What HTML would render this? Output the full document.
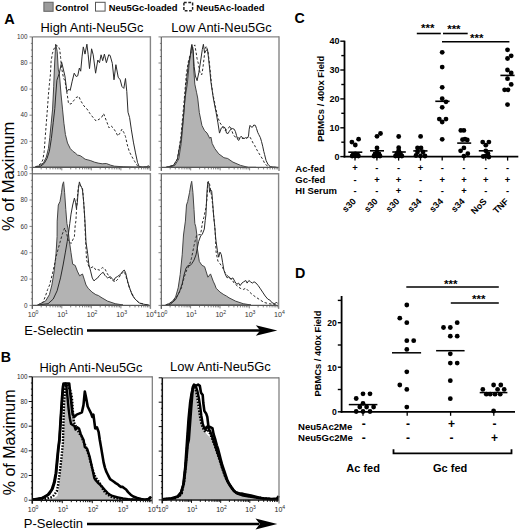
<!DOCTYPE html>
<html><head><meta charset="utf-8"><style>
html,body{margin:0;padding:0;background:#fff;}
body{width:520px;height:531px;overflow:hidden;}
svg{display:block;font-family:"Liberation Sans", sans-serif;}
</style></head><body>
<svg width="520" height="531" viewBox="0 0 520 531">
<polygon points="35.2,167.2 39.2,165.8 43.5,162.8 46.3,157.1 48.4,148.6 49.8,137.4 51.2,123.2 52.6,109.1 53.7,86.7 54.5,66.0 55.7,44.2 57.2,51.4 58.3,70.0 59.3,73.2 61.1,95.0 62.5,109.1 63.9,123.2 65.4,134.5 67.5,143.0 70.3,148.6 73.1,151.5 75.2,152.9 77.4,155.0 80.2,155.7 82.3,157.1 85.1,159.2 87.9,159.9 90.8,160.7 94.3,162.1 98.1,163.1 102.2,163.8 106.3,163.5 110.4,165.1 114.4,166.2 123.9,166.8 137.5,167.2 150.4,167.2" fill="#b3b3b3" stroke="#444" stroke-width="1.0" stroke-linejoin="round"/>
<polyline points="35.2,167.2 40.6,163.9 42.8,160.0 44.2,151.5 45.2,137.4 46.3,123.2 47.4,109.1 48.4,95.0 49.4,84.1 50.4,74.6 51.1,61.4 52.4,53.5 53.7,49.5 55.7,45.5 58.3,46.2 59.7,49.5 60.6,57.4 61.6,68.0 63.6,78.5 64.9,80.5 66.3,89.0 67.6,97.0 68.5,103.6 71.0,104.0 73.5,100.9 76.1,97.6 78.8,96.3 80.8,100.9 84.0,106.0 87.0,109.0 90.0,113.6 92.7,117.0 96.1,121.0 99.5,119.0 101.5,117.6 103.6,113.6 104.9,117.0 107.0,122.4 109.0,127.8 111.0,125.8 113.1,127.8 115.8,131.9 117.8,136.0 119.9,133.2 121.9,129.2 123.9,132.6 125.5,136.6 127.3,144.8 129.3,151.6 132.1,157.0 134.8,161.7 137.5,165.8 138.8,167.2 150.4,167.2" fill="none" stroke="#2a2a2a" stroke-width="1.0" stroke-dasharray="2.5,2" stroke-linejoin="round"/>
<polyline points="35.2,167.2 40.3,166.5 44.2,163.4 47.0,158.5 49.4,151.2 51.4,138.3 53.2,122.8 54.8,108.6 55.6,97.0 56.9,80.2 59.3,73.2 61.6,62.0 64.9,75.9 66.9,91.7 68.9,89.1 70.2,90.4 72.2,81.2 74.2,73.2 76.2,76.5 77.7,75.9 79.4,68.0 80.7,71.2 82.1,56.1 83.3,46.9 85.0,54.1 86.9,44.2 88.2,54.8 89.5,68.6 91.6,48.8 93.2,54.8 95.6,73.2 97.8,60.0 99.5,62.7 101.1,54.8 102.7,60.7 104.4,54.1 106.4,62.7 108.7,54.8 110.1,55.4 112.3,63.3 114.0,79.8 115.9,64.7 118.2,77.2 120.2,79.8 121.9,86.4 123.8,88.4 125.5,78.5 126.8,91.7 128.0,112.2 129.6,117.6 131.4,129.9 133.4,142.1 135.5,152.9 137.5,162.4 139.1,166.5 141.6,167.2 146.2,167.0 148.3,165.8 150.4,167.2" fill="none" stroke="#2a2a2a" stroke-width="1.0" stroke-linejoin="round"/>
<polygon points="168.3,167.4 174.8,165.4 178.7,159.0 181.2,143.5 183.3,120.2 185.0,98.0 187.3,84.1 189.0,65.7 190.3,55.7 191.9,44.3 193.1,51.8 193.6,66.8 194.8,84.1 196.5,92.2 197.7,98.0 199.3,112.5 201.9,125.4 204.5,130.6 207.1,133.1 209.7,138.3 210.9,137.0 212.2,143.5 214.8,148.6 218.7,153.8 223.9,157.7 227.7,158.5 232.9,162.1 240.6,165.4 248.4,167.4 256.1,167.4" fill="#b3b3b3" stroke="#444" stroke-width="1.0" stroke-linejoin="round"/>
<polyline points="165.7,167.4 173.5,165.4 177.4,159.0 180.7,138.3 183.8,104.7 186.4,73.7 188.5,60.8 190.3,54.4 192.9,47.9 194.8,44.9 196.0,51.8 197.1,58.8 198.3,63.4 200.0,72.6 201.7,74.9 202.9,68.0 204.0,58.8 205.2,48.4 206.3,46.1 208.0,51.8 209.2,61.1 210.4,72.6 211.5,84.1 212.7,93.4 214.3,100.9 216.1,109.9 217.9,117.6 220.0,122.8 222.6,126.7 225.1,130.6 227.7,129.3 230.0,125.8 233.1,134.2 235.0,136.9 238.1,137.8 240.6,138.6 243.2,138.3 245.8,138.6 249.6,136.5 251.2,139.2 253.1,143.1 254.6,145.4 256.5,149.2 258.8,153.1 261.2,156.9 262.7,159.2 264.4,162.8 266.5,165.4 270.3,167.2 276.8,167.4" fill="none" stroke="#2a2a2a" stroke-width="1.0" stroke-dasharray="2.5,2" stroke-linejoin="round"/>
<polyline points="165.7,167.4 173.5,165.4 177.4,159.0 181.2,138.3 183.8,112.5 186.4,81.5 188.5,63.4 190.3,55.7 191.6,45.3 193.1,49.5 194.2,66.8 195.4,76.0 197.1,80.7 198.8,72.6 200.6,61.1 202.3,49.5 203.4,44.3 204.6,53.0 205.8,50.7 207.5,49.5 208.6,58.8 209.8,70.3 210.9,81.8 212.1,89.9 213.3,98.0 214.8,106.0 216.1,112.5 217.9,122.8 219.5,133.1 221.3,128.0 223.1,126.7 225.0,127.7 226.5,133.1 228.1,133.5 229.2,131.5 230.8,129.2 232.3,128.5 234.2,129.2 235.4,131.5 236.5,135.4 237.7,139.6 238.8,140.4 240.0,137.7 241.2,136.2 242.7,138.1 244.2,138.5 245.4,137.7 246.9,138.1 248.5,136.2 249.2,129.2 250.0,125.4 251.2,126.9 252.3,127.3 253.8,125.0 255.4,125.4 256.5,128.5 257.7,132.3 258.8,134.6 260.4,137.7 261.5,141.5 262.7,146.2 263.8,151.5 264.6,154.6 266.0,160.3 267.8,164.1 270.3,166.7 276.8,167.4" fill="none" stroke="#2a2a2a" stroke-width="1.0" stroke-linejoin="round"/>
<polygon points="37.7,305.0 45.5,301.1 49.4,294.7 51.9,285.0 54.2,271.1 56.0,253.8 57.1,236.5 57.2,221.1 58.3,205.0 60.0,201.5 61.5,192.7 62.5,184.9 63.6,181.8 64.6,192.3 65.8,209.6 66.9,223.4 68.1,229.2 69.2,240.0 71.0,252.7 72.7,264.2 75.2,265.4 77.3,271.1 79.6,275.8 82.5,274.0 84.2,279.2 86.0,285.0 88.1,288.2 92.0,292.1 95.9,294.7 98.4,295.5 101.0,297.3 107.5,301.1 115.2,303.7 123.0,305.0" fill="#b3b3b3" stroke="#444" stroke-width="1.0" stroke-linejoin="round"/>
<polyline points="37.7,305.0 42.9,302.4 45.5,296.0 47.6,289.5 49.6,285.0 53.1,271.1 56.5,255.0 60.0,242.3 62.3,234.2 64.6,228.0 66.5,233.0 68.1,240.0 71.0,243.5 74.4,236.5 75.2,225.0 75.9,221.1 76.4,211.9 77.3,198.1 78.4,186.5 79.5,184.0 81.3,186.5 82.5,188.3 83.4,198.1 84.2,209.6 84.8,221.1 85.4,236.5 86.0,248.0 86.5,259.6 88.8,266.5 91.1,267.7 93.4,266.5 95.8,270.0 97.7,269.6 99.7,270.1 102.3,267.6 104.9,268.8 107.5,274.0 110.1,277.9 112.6,280.5 115.2,281.8 117.8,279.2 120.4,275.3 122.5,272.7 124.3,271.4 125.6,275.3 127.6,281.8 129.4,288.2 132.0,293.4 134.6,298.5 138.5,302.4 143.6,304.2 148.8,305.0" fill="none" stroke="#2a2a2a" stroke-width="1.0" stroke-dasharray="2.5,2" stroke-linejoin="round"/>
<polyline points="37.7,305.0 48.1,303.7 53.2,299.1 57.1,290.8 60.5,277.9 63.1,265.0 65.4,252.1 67.2,241.7 68.6,232.7 69.8,223.4 71.0,214.2 72.7,205.0 74.4,198.1 75.6,202.7 76.4,208.4 77.3,202.7 78.4,188.8 79.4,181.9 80.5,185.4 81.7,187.7 82.5,190.0 83.6,201.5 84.6,215.4 85.4,229.2 86.0,242.3 87.7,253.8 88.8,264.2 90.6,271.1 92.3,278.1 94.0,280.9 95.8,279.2 97.5,278.1 99.2,275.8 101.5,273.4 103.2,272.3 104.9,275.3 106.2,276.6 107.5,277.9 108.8,277.4 110.1,276.6 112.1,278.4 113.9,280.5 115.2,277.9 117.3,276.6 119.1,275.3 120.9,274.0 122.5,271.4 124.3,270.1 125.6,272.7 126.8,277.9 128.1,283.1 130.2,289.5 132.0,294.7 134.6,298.5 137.2,301.1 139.8,303.2 143.6,304.2 148.8,305.0" fill="none" stroke="#2a2a2a" stroke-width="1.0" stroke-linejoin="round"/>
<polygon points="165.7,305.0 167.6,304.3 171.6,302.3 175.6,297.0 178.2,287.8 180.2,274.6 182.2,254.8 183.5,235.0 185.4,221.1 186.5,205.0 187.7,201.5 189.5,192.7 190.8,184.9 191.7,181.3 192.9,192.3 194.0,209.6 194.8,223.4 195.8,226.9 196.9,235.0 197.3,248.2 199.3,261.4 201.9,265.3 204.6,266.7 207.9,277.2 210.5,273.9 213.2,281.2 215.0,285.1 216.1,288.2 220.0,292.1 223.9,294.7 226.4,296.0 229.0,297.8 235.5,301.1 243.2,303.7 251.0,305.0" fill="#b3b3b3" stroke="#444" stroke-width="1.0" stroke-linejoin="round"/>
<polyline points="165.7,305.0 169.0,303.6 174.2,300.3 178.2,294.4 181.5,287.8 183.5,279.9 185.4,273.3 187.4,268.6 189.4,265.3 191.4,258.7 192.7,252.2 194.0,245.6 195.3,240.3 196.7,235.0 198.8,234.8 200.5,234.5 201.4,229.8 202.3,223.2 203.8,217.6 205.0,212.0 206.1,207.2 206.9,199.7 207.5,190.1 207.8,184.1 208.4,181.3 209.6,184.2 210.8,191.1 211.9,198.1 213.1,209.6 214.2,221.1 215.1,230.4 216.1,252.1 217.9,261.1 220.0,263.7 222.6,267.6 225.1,272.7 227.2,275.3 229.0,277.9 231.6,279.2 234.2,283.1 236.8,285.6 240.1,288.2 243.2,289.5 245.8,288.2 248.4,290.8 251.0,293.4 253.6,295.5 256.1,297.3 260.0,299.8 263.9,302.4 269.1,303.7 276.8,305.0" fill="none" stroke="#2a2a2a" stroke-width="1.0" stroke-dasharray="2.5,2" stroke-linejoin="round"/>
<polyline points="168.3,305.0 170.3,304.3 175.6,299.6 179.5,291.7 182.2,283.8 184.1,274.6 186.1,268.0 188.1,265.3 190.1,265.6 192.0,263.4 194.0,260.1 196.0,254.8 197.3,248.2 198.6,241.6 200.6,236.0 202.4,234.0 204.3,229.1 205.2,220.6 205.9,215.0 206.4,203.8 207.1,190.0 207.9,181.9 209.0,184.2 209.6,192.3 210.8,190.0 211.7,191.1 212.5,200.4 213.6,215.4 214.8,226.9 215.4,235.0 216.1,241.7 217.4,250.8 218.7,257.2 220.0,252.1 221.3,254.6 222.6,262.4 223.9,270.1 225.7,275.3 227.2,277.9 229.0,276.6 230.8,279.2 232.9,277.9 235.0,281.8 236.8,284.3 238.6,283.1 240.1,285.6 241.9,283.1 243.7,281.8 245.8,280.5 247.1,283.1 248.9,280.5 250.5,281.8 252.3,283.1 254.1,281.8 256.1,283.1 258.2,285.6 260.0,288.2 262.6,292.1 265.2,296.0 267.8,299.1 270.3,300.4 271.6,302.4 274.2,303.7 276.8,302.4 278.1,303.7" fill="none" stroke="#2a2a2a" stroke-width="1.0" stroke-linejoin="round"/>
<line x1="29.5" y1="167.4" x2="32.3" y2="167.4" stroke="#666" stroke-width="0.8" />
<text x="27.5" y="169.6" font-size="6.3" font-weight="normal" text-anchor="end" fill="#333" >0</text>
<line x1="30.9" y1="160.9" x2="32.3" y2="160.9" stroke="#666" stroke-width="0.8" />
<line x1="30.9" y1="154.3" x2="32.3" y2="154.3" stroke="#666" stroke-width="0.8" />
<line x1="30.9" y1="147.8" x2="32.3" y2="147.8" stroke="#666" stroke-width="0.8" />
<line x1="29.5" y1="141.3" x2="32.3" y2="141.3" stroke="#666" stroke-width="0.8" />
<text x="27.5" y="143.5" font-size="6.3" font-weight="normal" text-anchor="end" fill="#333" >20</text>
<line x1="30.9" y1="134.8" x2="32.3" y2="134.8" stroke="#666" stroke-width="0.8" />
<line x1="30.9" y1="128.2" x2="32.3" y2="128.2" stroke="#666" stroke-width="0.8" />
<line x1="30.9" y1="121.7" x2="32.3" y2="121.7" stroke="#666" stroke-width="0.8" />
<line x1="29.5" y1="115.2" x2="32.3" y2="115.2" stroke="#666" stroke-width="0.8" />
<text x="27.5" y="117.4" font-size="6.3" font-weight="normal" text-anchor="end" fill="#333" >40</text>
<line x1="30.9" y1="108.7" x2="32.3" y2="108.7" stroke="#666" stroke-width="0.8" />
<line x1="30.9" y1="102.2" x2="32.3" y2="102.2" stroke="#666" stroke-width="0.8" />
<line x1="30.9" y1="95.6" x2="32.3" y2="95.6" stroke="#666" stroke-width="0.8" />
<line x1="29.5" y1="89.1" x2="32.3" y2="89.1" stroke="#666" stroke-width="0.8" />
<text x="27.5" y="91.3" font-size="6.3" font-weight="normal" text-anchor="end" fill="#333" >60</text>
<line x1="30.9" y1="82.6" x2="32.3" y2="82.6" stroke="#666" stroke-width="0.8" />
<line x1="30.9" y1="76.1" x2="32.3" y2="76.1" stroke="#666" stroke-width="0.8" />
<line x1="30.9" y1="69.5" x2="32.3" y2="69.5" stroke="#666" stroke-width="0.8" />
<line x1="29.5" y1="63.0" x2="32.3" y2="63.0" stroke="#666" stroke-width="0.8" />
<text x="27.5" y="65.2" font-size="6.3" font-weight="normal" text-anchor="end" fill="#333" >80</text>
<line x1="30.9" y1="56.5" x2="32.3" y2="56.5" stroke="#666" stroke-width="0.8" />
<line x1="30.9" y1="50.0" x2="32.3" y2="50.0" stroke="#666" stroke-width="0.8" />
<line x1="30.9" y1="43.4" x2="32.3" y2="43.4" stroke="#666" stroke-width="0.8" />
<line x1="29.5" y1="36.9" x2="32.3" y2="36.9" stroke="#666" stroke-width="0.8" />
<text x="27.5" y="39.1" font-size="6.3" font-weight="normal" text-anchor="end" fill="#333" >100</text>
<line x1="32.3" y1="167.4" x2="32.3" y2="170.4" stroke="#666" stroke-width="0.8" />
<line x1="41.2" y1="167.4" x2="41.2" y2="169.4" stroke="#666" stroke-width="0.8" />
<line x1="46.4" y1="167.4" x2="46.4" y2="169.4" stroke="#666" stroke-width="0.8" />
<line x1="50.1" y1="167.4" x2="50.1" y2="169.4" stroke="#666" stroke-width="0.8" />
<line x1="52.9" y1="167.4" x2="52.9" y2="169.4" stroke="#666" stroke-width="0.8" />
<line x1="55.3" y1="167.4" x2="55.3" y2="169.4" stroke="#666" stroke-width="0.8" />
<line x1="57.3" y1="167.4" x2="57.3" y2="169.4" stroke="#666" stroke-width="0.8" />
<line x1="59.0" y1="167.4" x2="59.0" y2="169.4" stroke="#666" stroke-width="0.8" />
<line x1="60.5" y1="167.4" x2="60.5" y2="169.4" stroke="#666" stroke-width="0.8" />
<line x1="61.8" y1="167.4" x2="61.8" y2="170.4" stroke="#666" stroke-width="0.8" />
<line x1="70.7" y1="167.4" x2="70.7" y2="169.4" stroke="#666" stroke-width="0.8" />
<line x1="75.9" y1="167.4" x2="75.9" y2="169.4" stroke="#666" stroke-width="0.8" />
<line x1="79.6" y1="167.4" x2="79.6" y2="169.4" stroke="#666" stroke-width="0.8" />
<line x1="82.5" y1="167.4" x2="82.5" y2="169.4" stroke="#666" stroke-width="0.8" />
<line x1="84.8" y1="167.4" x2="84.8" y2="169.4" stroke="#666" stroke-width="0.8" />
<line x1="86.8" y1="167.4" x2="86.8" y2="169.4" stroke="#666" stroke-width="0.8" />
<line x1="88.5" y1="167.4" x2="88.5" y2="169.4" stroke="#666" stroke-width="0.8" />
<line x1="90.0" y1="167.4" x2="90.0" y2="169.4" stroke="#666" stroke-width="0.8" />
<line x1="91.3" y1="167.4" x2="91.3" y2="170.4" stroke="#666" stroke-width="0.8" />
<line x1="100.2" y1="167.4" x2="100.2" y2="169.4" stroke="#666" stroke-width="0.8" />
<line x1="105.4" y1="167.4" x2="105.4" y2="169.4" stroke="#666" stroke-width="0.8" />
<line x1="109.1" y1="167.4" x2="109.1" y2="169.4" stroke="#666" stroke-width="0.8" />
<line x1="112.0" y1="167.4" x2="112.0" y2="169.4" stroke="#666" stroke-width="0.8" />
<line x1="114.3" y1="167.4" x2="114.3" y2="169.4" stroke="#666" stroke-width="0.8" />
<line x1="116.3" y1="167.4" x2="116.3" y2="169.4" stroke="#666" stroke-width="0.8" />
<line x1="118.0" y1="167.4" x2="118.0" y2="169.4" stroke="#666" stroke-width="0.8" />
<line x1="119.5" y1="167.4" x2="119.5" y2="169.4" stroke="#666" stroke-width="0.8" />
<line x1="120.9" y1="167.4" x2="120.9" y2="170.4" stroke="#666" stroke-width="0.8" />
<line x1="129.8" y1="167.4" x2="129.8" y2="169.4" stroke="#666" stroke-width="0.8" />
<line x1="135.0" y1="167.4" x2="135.0" y2="169.4" stroke="#666" stroke-width="0.8" />
<line x1="138.7" y1="167.4" x2="138.7" y2="169.4" stroke="#666" stroke-width="0.8" />
<line x1="141.5" y1="167.4" x2="141.5" y2="169.4" stroke="#666" stroke-width="0.8" />
<line x1="143.8" y1="167.4" x2="143.8" y2="169.4" stroke="#666" stroke-width="0.8" />
<line x1="145.8" y1="167.4" x2="145.8" y2="169.4" stroke="#666" stroke-width="0.8" />
<line x1="147.5" y1="167.4" x2="147.5" y2="169.4" stroke="#666" stroke-width="0.8" />
<line x1="149.0" y1="167.4" x2="149.0" y2="169.4" stroke="#666" stroke-width="0.8" />
<line x1="32.3" y1="36.9" x2="150.4" y2="36.9" stroke="#858585" stroke-width="1.4" />
<line x1="32.3" y1="167.4" x2="150.4" y2="167.4" stroke="#555" stroke-width="1.1" />
<line x1="150.4" y1="36.2" x2="150.4" y2="170.9" stroke="#858585" stroke-width="1.4" />
<line x1="32.3" y1="36.9" x2="32.3" y2="170.9" stroke="#555" stroke-width="1.1" />
<line x1="158.5" y1="167.4" x2="161.3" y2="167.4" stroke="#666" stroke-width="0.8" />
<line x1="159.9" y1="160.9" x2="161.3" y2="160.9" stroke="#666" stroke-width="0.8" />
<line x1="159.9" y1="154.3" x2="161.3" y2="154.3" stroke="#666" stroke-width="0.8" />
<line x1="159.9" y1="147.8" x2="161.3" y2="147.8" stroke="#666" stroke-width="0.8" />
<line x1="158.5" y1="141.3" x2="161.3" y2="141.3" stroke="#666" stroke-width="0.8" />
<line x1="159.9" y1="134.8" x2="161.3" y2="134.8" stroke="#666" stroke-width="0.8" />
<line x1="159.9" y1="128.2" x2="161.3" y2="128.2" stroke="#666" stroke-width="0.8" />
<line x1="159.9" y1="121.7" x2="161.3" y2="121.7" stroke="#666" stroke-width="0.8" />
<line x1="158.5" y1="115.2" x2="161.3" y2="115.2" stroke="#666" stroke-width="0.8" />
<line x1="159.9" y1="108.7" x2="161.3" y2="108.7" stroke="#666" stroke-width="0.8" />
<line x1="159.9" y1="102.2" x2="161.3" y2="102.2" stroke="#666" stroke-width="0.8" />
<line x1="159.9" y1="95.6" x2="161.3" y2="95.6" stroke="#666" stroke-width="0.8" />
<line x1="158.5" y1="89.1" x2="161.3" y2="89.1" stroke="#666" stroke-width="0.8" />
<line x1="159.9" y1="82.6" x2="161.3" y2="82.6" stroke="#666" stroke-width="0.8" />
<line x1="159.9" y1="76.1" x2="161.3" y2="76.1" stroke="#666" stroke-width="0.8" />
<line x1="159.9" y1="69.5" x2="161.3" y2="69.5" stroke="#666" stroke-width="0.8" />
<line x1="158.5" y1="63.0" x2="161.3" y2="63.0" stroke="#666" stroke-width="0.8" />
<line x1="159.9" y1="56.5" x2="161.3" y2="56.5" stroke="#666" stroke-width="0.8" />
<line x1="159.9" y1="50.0" x2="161.3" y2="50.0" stroke="#666" stroke-width="0.8" />
<line x1="159.9" y1="43.4" x2="161.3" y2="43.4" stroke="#666" stroke-width="0.8" />
<line x1="158.5" y1="36.9" x2="161.3" y2="36.9" stroke="#666" stroke-width="0.8" />
<line x1="161.3" y1="167.4" x2="161.3" y2="170.4" stroke="#666" stroke-width="0.8" />
<line x1="170.2" y1="167.4" x2="170.2" y2="169.4" stroke="#666" stroke-width="0.8" />
<line x1="175.3" y1="167.4" x2="175.3" y2="169.4" stroke="#666" stroke-width="0.8" />
<line x1="179.0" y1="167.4" x2="179.0" y2="169.4" stroke="#666" stroke-width="0.8" />
<line x1="181.9" y1="167.4" x2="181.9" y2="169.4" stroke="#666" stroke-width="0.8" />
<line x1="184.2" y1="167.4" x2="184.2" y2="169.4" stroke="#666" stroke-width="0.8" />
<line x1="186.2" y1="167.4" x2="186.2" y2="169.4" stroke="#666" stroke-width="0.8" />
<line x1="187.9" y1="167.4" x2="187.9" y2="169.4" stroke="#666" stroke-width="0.8" />
<line x1="189.4" y1="167.4" x2="189.4" y2="169.4" stroke="#666" stroke-width="0.8" />
<line x1="190.7" y1="167.4" x2="190.7" y2="170.4" stroke="#666" stroke-width="0.8" />
<line x1="199.6" y1="167.4" x2="199.6" y2="169.4" stroke="#666" stroke-width="0.8" />
<line x1="204.8" y1="167.4" x2="204.8" y2="169.4" stroke="#666" stroke-width="0.8" />
<line x1="208.4" y1="167.4" x2="208.4" y2="169.4" stroke="#666" stroke-width="0.8" />
<line x1="211.3" y1="167.4" x2="211.3" y2="169.4" stroke="#666" stroke-width="0.8" />
<line x1="213.6" y1="167.4" x2="213.6" y2="169.4" stroke="#666" stroke-width="0.8" />
<line x1="215.6" y1="167.4" x2="215.6" y2="169.4" stroke="#666" stroke-width="0.8" />
<line x1="217.3" y1="167.4" x2="217.3" y2="169.4" stroke="#666" stroke-width="0.8" />
<line x1="218.8" y1="167.4" x2="218.8" y2="169.4" stroke="#666" stroke-width="0.8" />
<line x1="220.2" y1="167.4" x2="220.2" y2="170.4" stroke="#666" stroke-width="0.8" />
<line x1="229.0" y1="167.4" x2="229.0" y2="169.4" stroke="#666" stroke-width="0.8" />
<line x1="234.2" y1="167.4" x2="234.2" y2="169.4" stroke="#666" stroke-width="0.8" />
<line x1="237.9" y1="167.4" x2="237.9" y2="169.4" stroke="#666" stroke-width="0.8" />
<line x1="240.7" y1="167.4" x2="240.7" y2="169.4" stroke="#666" stroke-width="0.8" />
<line x1="243.0" y1="167.4" x2="243.0" y2="169.4" stroke="#666" stroke-width="0.8" />
<line x1="245.0" y1="167.4" x2="245.0" y2="169.4" stroke="#666" stroke-width="0.8" />
<line x1="246.7" y1="167.4" x2="246.7" y2="169.4" stroke="#666" stroke-width="0.8" />
<line x1="248.2" y1="167.4" x2="248.2" y2="169.4" stroke="#666" stroke-width="0.8" />
<line x1="249.6" y1="167.4" x2="249.6" y2="170.4" stroke="#666" stroke-width="0.8" />
<line x1="258.4" y1="167.4" x2="258.4" y2="169.4" stroke="#666" stroke-width="0.8" />
<line x1="263.6" y1="167.4" x2="263.6" y2="169.4" stroke="#666" stroke-width="0.8" />
<line x1="267.3" y1="167.4" x2="267.3" y2="169.4" stroke="#666" stroke-width="0.8" />
<line x1="270.1" y1="167.4" x2="270.1" y2="169.4" stroke="#666" stroke-width="0.8" />
<line x1="272.5" y1="167.4" x2="272.5" y2="169.4" stroke="#666" stroke-width="0.8" />
<line x1="274.4" y1="167.4" x2="274.4" y2="169.4" stroke="#666" stroke-width="0.8" />
<line x1="276.1" y1="167.4" x2="276.1" y2="169.4" stroke="#666" stroke-width="0.8" />
<line x1="277.7" y1="167.4" x2="277.7" y2="169.4" stroke="#666" stroke-width="0.8" />
<line x1="161.3" y1="36.9" x2="279.0" y2="36.9" stroke="#858585" stroke-width="1.4" />
<line x1="161.3" y1="167.4" x2="279.0" y2="167.4" stroke="#555" stroke-width="1.1" />
<line x1="279.0" y1="36.2" x2="279.0" y2="170.9" stroke="#858585" stroke-width="1.4" />
<line x1="161.3" y1="36.9" x2="161.3" y2="170.9" stroke="#555" stroke-width="1.1" />
<line x1="29.5" y1="305.4" x2="32.3" y2="305.4" stroke="#666" stroke-width="0.8" />
<text x="27.5" y="307.6" font-size="6.3" font-weight="normal" text-anchor="end" fill="#333" >0</text>
<line x1="30.9" y1="298.8" x2="32.3" y2="298.8" stroke="#666" stroke-width="0.8" />
<line x1="30.9" y1="292.2" x2="32.3" y2="292.2" stroke="#666" stroke-width="0.8" />
<line x1="30.9" y1="285.6" x2="32.3" y2="285.6" stroke="#666" stroke-width="0.8" />
<line x1="29.5" y1="279.1" x2="32.3" y2="279.1" stroke="#666" stroke-width="0.8" />
<text x="27.5" y="281.3" font-size="6.3" font-weight="normal" text-anchor="end" fill="#333" >20</text>
<line x1="30.9" y1="272.5" x2="32.3" y2="272.5" stroke="#666" stroke-width="0.8" />
<line x1="30.9" y1="265.9" x2="32.3" y2="265.9" stroke="#666" stroke-width="0.8" />
<line x1="30.9" y1="259.3" x2="32.3" y2="259.3" stroke="#666" stroke-width="0.8" />
<line x1="29.5" y1="252.7" x2="32.3" y2="252.7" stroke="#666" stroke-width="0.8" />
<text x="27.5" y="254.9" font-size="6.3" font-weight="normal" text-anchor="end" fill="#333" >40</text>
<line x1="30.9" y1="246.1" x2="32.3" y2="246.1" stroke="#666" stroke-width="0.8" />
<line x1="30.9" y1="239.5" x2="32.3" y2="239.5" stroke="#666" stroke-width="0.8" />
<line x1="30.9" y1="233.0" x2="32.3" y2="233.0" stroke="#666" stroke-width="0.8" />
<line x1="29.5" y1="226.4" x2="32.3" y2="226.4" stroke="#666" stroke-width="0.8" />
<text x="27.5" y="228.6" font-size="6.3" font-weight="normal" text-anchor="end" fill="#333" >60</text>
<line x1="30.9" y1="219.8" x2="32.3" y2="219.8" stroke="#666" stroke-width="0.8" />
<line x1="30.9" y1="213.2" x2="32.3" y2="213.2" stroke="#666" stroke-width="0.8" />
<line x1="30.9" y1="206.6" x2="32.3" y2="206.6" stroke="#666" stroke-width="0.8" />
<line x1="29.5" y1="200.0" x2="32.3" y2="200.0" stroke="#666" stroke-width="0.8" />
<text x="27.5" y="202.2" font-size="6.3" font-weight="normal" text-anchor="end" fill="#333" >80</text>
<line x1="30.9" y1="193.5" x2="32.3" y2="193.5" stroke="#666" stroke-width="0.8" />
<line x1="30.9" y1="186.9" x2="32.3" y2="186.9" stroke="#666" stroke-width="0.8" />
<line x1="30.9" y1="180.3" x2="32.3" y2="180.3" stroke="#666" stroke-width="0.8" />
<line x1="29.5" y1="173.7" x2="32.3" y2="173.7" stroke="#666" stroke-width="0.8" />
<text x="27.5" y="175.9" font-size="6.3" font-weight="normal" text-anchor="end" fill="#333" >100</text>
<line x1="32.3" y1="305.4" x2="32.3" y2="308.4" stroke="#666" stroke-width="0.8" />
<line x1="41.2" y1="305.4" x2="41.2" y2="307.4" stroke="#666" stroke-width="0.8" />
<line x1="46.4" y1="305.4" x2="46.4" y2="307.4" stroke="#666" stroke-width="0.8" />
<line x1="50.1" y1="305.4" x2="50.1" y2="307.4" stroke="#666" stroke-width="0.8" />
<line x1="52.9" y1="305.4" x2="52.9" y2="307.4" stroke="#666" stroke-width="0.8" />
<line x1="55.3" y1="305.4" x2="55.3" y2="307.4" stroke="#666" stroke-width="0.8" />
<line x1="57.3" y1="305.4" x2="57.3" y2="307.4" stroke="#666" stroke-width="0.8" />
<line x1="59.0" y1="305.4" x2="59.0" y2="307.4" stroke="#666" stroke-width="0.8" />
<line x1="60.5" y1="305.4" x2="60.5" y2="307.4" stroke="#666" stroke-width="0.8" />
<line x1="61.8" y1="305.4" x2="61.8" y2="308.4" stroke="#666" stroke-width="0.8" />
<line x1="70.7" y1="305.4" x2="70.7" y2="307.4" stroke="#666" stroke-width="0.8" />
<line x1="75.9" y1="305.4" x2="75.9" y2="307.4" stroke="#666" stroke-width="0.8" />
<line x1="79.6" y1="305.4" x2="79.6" y2="307.4" stroke="#666" stroke-width="0.8" />
<line x1="82.5" y1="305.4" x2="82.5" y2="307.4" stroke="#666" stroke-width="0.8" />
<line x1="84.8" y1="305.4" x2="84.8" y2="307.4" stroke="#666" stroke-width="0.8" />
<line x1="86.8" y1="305.4" x2="86.8" y2="307.4" stroke="#666" stroke-width="0.8" />
<line x1="88.5" y1="305.4" x2="88.5" y2="307.4" stroke="#666" stroke-width="0.8" />
<line x1="90.0" y1="305.4" x2="90.0" y2="307.4" stroke="#666" stroke-width="0.8" />
<line x1="91.3" y1="305.4" x2="91.3" y2="308.4" stroke="#666" stroke-width="0.8" />
<line x1="100.2" y1="305.4" x2="100.2" y2="307.4" stroke="#666" stroke-width="0.8" />
<line x1="105.4" y1="305.4" x2="105.4" y2="307.4" stroke="#666" stroke-width="0.8" />
<line x1="109.1" y1="305.4" x2="109.1" y2="307.4" stroke="#666" stroke-width="0.8" />
<line x1="112.0" y1="305.4" x2="112.0" y2="307.4" stroke="#666" stroke-width="0.8" />
<line x1="114.3" y1="305.4" x2="114.3" y2="307.4" stroke="#666" stroke-width="0.8" />
<line x1="116.3" y1="305.4" x2="116.3" y2="307.4" stroke="#666" stroke-width="0.8" />
<line x1="118.0" y1="305.4" x2="118.0" y2="307.4" stroke="#666" stroke-width="0.8" />
<line x1="119.5" y1="305.4" x2="119.5" y2="307.4" stroke="#666" stroke-width="0.8" />
<line x1="120.9" y1="305.4" x2="120.9" y2="308.4" stroke="#666" stroke-width="0.8" />
<line x1="129.8" y1="305.4" x2="129.8" y2="307.4" stroke="#666" stroke-width="0.8" />
<line x1="135.0" y1="305.4" x2="135.0" y2="307.4" stroke="#666" stroke-width="0.8" />
<line x1="138.7" y1="305.4" x2="138.7" y2="307.4" stroke="#666" stroke-width="0.8" />
<line x1="141.5" y1="305.4" x2="141.5" y2="307.4" stroke="#666" stroke-width="0.8" />
<line x1="143.8" y1="305.4" x2="143.8" y2="307.4" stroke="#666" stroke-width="0.8" />
<line x1="145.8" y1="305.4" x2="145.8" y2="307.4" stroke="#666" stroke-width="0.8" />
<line x1="147.5" y1="305.4" x2="147.5" y2="307.4" stroke="#666" stroke-width="0.8" />
<line x1="149.0" y1="305.4" x2="149.0" y2="307.4" stroke="#666" stroke-width="0.8" />
<text x="33.1" y="317.0" font-size="7.1" text-anchor="middle" fill="#333">10<tspan font-size="5.1" dy="-3">0</tspan></text>
<text x="62.6" y="317.0" font-size="7.1" text-anchor="middle" fill="#333">10<tspan font-size="5.1" dy="-3">1</tspan></text>
<text x="92.1" y="317.0" font-size="7.1" text-anchor="middle" fill="#333">10<tspan font-size="5.1" dy="-3">2</tspan></text>
<text x="121.7" y="317.0" font-size="7.1" text-anchor="middle" fill="#333">10<tspan font-size="5.1" dy="-3">3</tspan></text>
<text x="151.2" y="317.0" font-size="7.1" text-anchor="middle" fill="#333">10<tspan font-size="5.1" dy="-3">4</tspan></text>
<line x1="32.3" y1="173.7" x2="150.4" y2="173.7" stroke="#858585" stroke-width="1.4" />
<line x1="32.3" y1="305.4" x2="150.4" y2="305.4" stroke="#555" stroke-width="1.1" />
<line x1="150.4" y1="173.0" x2="150.4" y2="308.9" stroke="#858585" stroke-width="1.4" />
<line x1="32.3" y1="170.7" x2="32.3" y2="308.9" stroke="#555" stroke-width="1.1" />
<line x1="158.5" y1="305.4" x2="161.3" y2="305.4" stroke="#666" stroke-width="0.8" />
<line x1="159.9" y1="298.8" x2="161.3" y2="298.8" stroke="#666" stroke-width="0.8" />
<line x1="159.9" y1="292.2" x2="161.3" y2="292.2" stroke="#666" stroke-width="0.8" />
<line x1="159.9" y1="285.6" x2="161.3" y2="285.6" stroke="#666" stroke-width="0.8" />
<line x1="158.5" y1="279.1" x2="161.3" y2="279.1" stroke="#666" stroke-width="0.8" />
<line x1="159.9" y1="272.5" x2="161.3" y2="272.5" stroke="#666" stroke-width="0.8" />
<line x1="159.9" y1="265.9" x2="161.3" y2="265.9" stroke="#666" stroke-width="0.8" />
<line x1="159.9" y1="259.3" x2="161.3" y2="259.3" stroke="#666" stroke-width="0.8" />
<line x1="158.5" y1="252.7" x2="161.3" y2="252.7" stroke="#666" stroke-width="0.8" />
<line x1="159.9" y1="246.1" x2="161.3" y2="246.1" stroke="#666" stroke-width="0.8" />
<line x1="159.9" y1="239.5" x2="161.3" y2="239.5" stroke="#666" stroke-width="0.8" />
<line x1="159.9" y1="233.0" x2="161.3" y2="233.0" stroke="#666" stroke-width="0.8" />
<line x1="158.5" y1="226.4" x2="161.3" y2="226.4" stroke="#666" stroke-width="0.8" />
<line x1="159.9" y1="219.8" x2="161.3" y2="219.8" stroke="#666" stroke-width="0.8" />
<line x1="159.9" y1="213.2" x2="161.3" y2="213.2" stroke="#666" stroke-width="0.8" />
<line x1="159.9" y1="206.6" x2="161.3" y2="206.6" stroke="#666" stroke-width="0.8" />
<line x1="158.5" y1="200.0" x2="161.3" y2="200.0" stroke="#666" stroke-width="0.8" />
<line x1="159.9" y1="193.5" x2="161.3" y2="193.5" stroke="#666" stroke-width="0.8" />
<line x1="159.9" y1="186.9" x2="161.3" y2="186.9" stroke="#666" stroke-width="0.8" />
<line x1="159.9" y1="180.3" x2="161.3" y2="180.3" stroke="#666" stroke-width="0.8" />
<line x1="158.5" y1="173.7" x2="161.3" y2="173.7" stroke="#666" stroke-width="0.8" />
<line x1="161.3" y1="305.4" x2="161.3" y2="308.4" stroke="#666" stroke-width="0.8" />
<line x1="170.1" y1="305.4" x2="170.1" y2="307.4" stroke="#666" stroke-width="0.8" />
<line x1="175.3" y1="305.4" x2="175.3" y2="307.4" stroke="#666" stroke-width="0.8" />
<line x1="179.0" y1="305.4" x2="179.0" y2="307.4" stroke="#666" stroke-width="0.8" />
<line x1="181.8" y1="305.4" x2="181.8" y2="307.4" stroke="#666" stroke-width="0.8" />
<line x1="184.1" y1="305.4" x2="184.1" y2="307.4" stroke="#666" stroke-width="0.8" />
<line x1="186.1" y1="305.4" x2="186.1" y2="307.4" stroke="#666" stroke-width="0.8" />
<line x1="187.8" y1="305.4" x2="187.8" y2="307.4" stroke="#666" stroke-width="0.8" />
<line x1="189.3" y1="305.4" x2="189.3" y2="307.4" stroke="#666" stroke-width="0.8" />
<line x1="190.6" y1="305.4" x2="190.6" y2="308.4" stroke="#666" stroke-width="0.8" />
<line x1="199.5" y1="305.4" x2="199.5" y2="307.4" stroke="#666" stroke-width="0.8" />
<line x1="204.6" y1="305.4" x2="204.6" y2="307.4" stroke="#666" stroke-width="0.8" />
<line x1="208.3" y1="305.4" x2="208.3" y2="307.4" stroke="#666" stroke-width="0.8" />
<line x1="211.1" y1="305.4" x2="211.1" y2="307.4" stroke="#666" stroke-width="0.8" />
<line x1="213.4" y1="305.4" x2="213.4" y2="307.4" stroke="#666" stroke-width="0.8" />
<line x1="215.4" y1="305.4" x2="215.4" y2="307.4" stroke="#666" stroke-width="0.8" />
<line x1="217.1" y1="305.4" x2="217.1" y2="307.4" stroke="#666" stroke-width="0.8" />
<line x1="218.6" y1="305.4" x2="218.6" y2="307.4" stroke="#666" stroke-width="0.8" />
<line x1="220.0" y1="305.4" x2="220.0" y2="308.4" stroke="#666" stroke-width="0.8" />
<line x1="228.8" y1="305.4" x2="228.8" y2="307.4" stroke="#666" stroke-width="0.8" />
<line x1="233.9" y1="305.4" x2="233.9" y2="307.4" stroke="#666" stroke-width="0.8" />
<line x1="237.6" y1="305.4" x2="237.6" y2="307.4" stroke="#666" stroke-width="0.8" />
<line x1="240.4" y1="305.4" x2="240.4" y2="307.4" stroke="#666" stroke-width="0.8" />
<line x1="242.8" y1="305.4" x2="242.8" y2="307.4" stroke="#666" stroke-width="0.8" />
<line x1="244.7" y1="305.4" x2="244.7" y2="307.4" stroke="#666" stroke-width="0.8" />
<line x1="246.4" y1="305.4" x2="246.4" y2="307.4" stroke="#666" stroke-width="0.8" />
<line x1="247.9" y1="305.4" x2="247.9" y2="307.4" stroke="#666" stroke-width="0.8" />
<line x1="249.3" y1="305.4" x2="249.3" y2="308.4" stroke="#666" stroke-width="0.8" />
<line x1="258.1" y1="305.4" x2="258.1" y2="307.4" stroke="#666" stroke-width="0.8" />
<line x1="263.3" y1="305.4" x2="263.3" y2="307.4" stroke="#666" stroke-width="0.8" />
<line x1="266.9" y1="305.4" x2="266.9" y2="307.4" stroke="#666" stroke-width="0.8" />
<line x1="269.8" y1="305.4" x2="269.8" y2="307.4" stroke="#666" stroke-width="0.8" />
<line x1="272.1" y1="305.4" x2="272.1" y2="307.4" stroke="#666" stroke-width="0.8" />
<line x1="274.1" y1="305.4" x2="274.1" y2="307.4" stroke="#666" stroke-width="0.8" />
<line x1="275.8" y1="305.4" x2="275.8" y2="307.4" stroke="#666" stroke-width="0.8" />
<line x1="277.3" y1="305.4" x2="277.3" y2="307.4" stroke="#666" stroke-width="0.8" />
<text x="162.1" y="317.0" font-size="7.1" text-anchor="middle" fill="#333">10<tspan font-size="5.1" dy="-3">0</tspan></text>
<text x="191.4" y="317.0" font-size="7.1" text-anchor="middle" fill="#333">10<tspan font-size="5.1" dy="-3">1</tspan></text>
<text x="220.8" y="317.0" font-size="7.1" text-anchor="middle" fill="#333">10<tspan font-size="5.1" dy="-3">2</tspan></text>
<text x="250.1" y="317.0" font-size="7.1" text-anchor="middle" fill="#333">10<tspan font-size="5.1" dy="-3">3</tspan></text>
<text x="279.4" y="317.0" font-size="7.1" text-anchor="middle" fill="#333">10<tspan font-size="5.1" dy="-3">4</tspan></text>
<line x1="161.3" y1="173.7" x2="278.6" y2="173.7" stroke="#858585" stroke-width="1.4" />
<line x1="161.3" y1="305.4" x2="278.6" y2="305.4" stroke="#555" stroke-width="1.1" />
<line x1="278.6" y1="173.0" x2="278.6" y2="308.9" stroke="#858585" stroke-width="1.4" />
<line x1="161.3" y1="173.7" x2="161.3" y2="308.9" stroke="#555" stroke-width="1.1" />
<polygon points="35.2,499.8 48.1,499.1 54.5,498.0 57.5,495.8 58.7,487.4 59.9,475.6 61.1,463.7 62.3,451.9 63.2,440.0 64.0,404.3 65.2,390.1 66.9,385.4 68.9,388.5 70.8,393.2 71.5,397.8 72.1,403.5 72.4,410.2 73.1,414.9 73.6,422.4 74.9,424.9 76.2,427.5 77.5,430.1 78.8,432.7 80.1,435.3 81.4,436.6 82.7,440.4 84.0,443.0 85.3,445.6 86.6,449.5 87.9,453.4 89.1,457.2 90.4,462.4 91.7,467.6 93.0,471.4 94.3,475.3 95.6,477.9 96.9,479.2 99.5,483.1 102.1,488.2 104.6,492.1 107.2,494.7 112.4,497.3 120.1,499.1 133.3,499.8 148.8,499.8" fill="#bcbcbc" stroke="none"/>
<polyline points="32.6,499.8 37.7,499.1 44.2,497.5 49.4,493.9 52.7,488.7 54.8,481.8 56.3,472.7 57.4,461.1 58.4,449.5 59.6,439.9 61.2,413.3 62.3,397.8 63.1,388.0 63.8,384.4 65.6,383.6 66.3,385.8 67.5,397.3 68.6,408.8 69.8,418.1 71.0,423.8 72.7,425.0 74.4,426.1 75.6,429.6 77.3,427.3 79.0,428.4 80.8,434.2 82.5,437.7 83.6,440.0 84.8,447.1 87.2,448.9 89.6,456.6 92.0,467.3 94.3,478.0 95.9,480.5 97.7,482.5 99.7,484.3 102.3,486.9 104.9,490.0 107.5,492.9 110.1,494.7 112.6,496.0 117.8,497.3 123.0,498.5 128.1,499.1 138.5,499.8 150.1,499.8" fill="none" stroke="#000" stroke-width="2.4" stroke-linejoin="round"/>
<polyline points="32.6,499.8 45.5,499.1 52.0,497.0 54.0,495.2 56.9,491.0 58.1,485.1 59.3,475.6 60.5,466.1 61.7,455.4 62.9,442.4 64.0,403.0 65.2,389.2 66.9,384.6 69.2,388.0 71.0,392.7 71.8,397.3 72.4,403.0 72.7,410.0 73.3,414.6 73.9,422.4 75.2,424.9 76.5,427.5 77.8,430.1 79.1,432.7 80.4,435.3 81.7,436.6 82.9,440.4 84.2,443.0 85.5,445.6 86.8,449.5 88.1,453.4 89.4,457.2 90.7,462.4 92.0,467.6 93.3,471.4 94.6,475.3 95.9,477.9 97.1,479.2 99.7,483.1 102.3,488.2 104.9,492.1 107.5,494.7 112.6,497.3 120.4,499.1 133.3,499.8" fill="none" stroke="#000" stroke-width="2.4" stroke-dasharray="1.6,1.4" stroke-linejoin="round"/>
<polyline points="32.6,499.8 35.0,499.3 42.1,498.1 48.0,494.6 51.6,489.8 54.0,482.7 55.8,473.2 56.9,461.4 58.1,449.5 59.3,440.0 61.0,413.3 62.0,397.8 62.9,386.9 63.5,383.5 69.2,383.5 69.8,389.2 71.0,399.6 72.1,410.0 72.7,414.6 74.4,416.9 76.7,414.6 79.6,413.4 81.9,412.3 83.5,405.0 84.8,391.5 86.0,397.3 87.7,406.5 89.4,410.0 91.1,413.4 92.3,416.9 93.4,414.6 95.2,428.4 96.9,427.3 98.6,431.9 99.8,440.0 101.0,446.9 102.3,454.6 103.6,462.4 104.9,467.6 106.2,471.4 107.5,474.0 108.8,476.6 110.1,479.2 112.1,480.5 113.9,481.8 115.7,483.1 117.8,484.3 119.1,485.6 120.9,486.9 122.5,486.9 124.3,488.2 126.1,489.5 128.1,492.1 130.7,494.7 133.3,496.5 137.2,498.0 141.1,499.1 144.9,499.8 148.3,499.1 150.1,497.3 151.4,498.5" fill="none" stroke="#000" stroke-width="2.6" stroke-linejoin="round"/>
<polygon points="165.7,499.3 176.1,498.0 181.2,493.4 183.8,483.1 185.9,462.4 187.7,436.6 189.5,410.7 191.1,395.2 192.9,387.5 194.2,386.2 195.4,388.8 196.7,397.8 198.0,408.2 202.7,418.5 204.0,426.2 205.3,431.4 206.6,434.0 207.8,435.3 209.1,436.6 210.4,437.9 211.7,439.7 213.0,441.7 214.3,444.3 215.6,446.9 216.9,449.5 218.2,452.1 219.5,454.6 219.2,458.5 220.5,461.1 221.8,465.0 223.1,468.8 224.4,471.4 225.7,474.0 227.0,476.6 228.2,479.2 229.5,483.1 232.1,486.9 234.7,490.8 237.3,493.4 240.6,495.5 245.8,496.5 251.0,497.3 256.1,498.0 261.3,498.5 269.1,499.3 278.1,499.3" fill="#bcbcbc" stroke="none"/>
<polyline points="162.4,499.3 173.5,498.5 180.0,495.5 183.1,485.6 185.1,467.6 186.9,441.7 188.5,418.5 190.0,403.0 191.6,392.7 193.1,387.0 194.7,385.4 196.2,387.5 197.5,391.4 198.8,397.8 200.1,405.6 201.4,415.9 202.7,423.7 204.0,427.5 205.3,429.3 206.6,426.8 207.8,427.5 209.1,429.3 210.4,431.9 211.7,435.3 213.0,439.1 214.3,443.0 215.6,446.9 216.9,450.8 218.2,454.6 219.5,458.5 220.8,462.9 222.0,467.0 223.3,470.7 224.6,474.3 225.9,477.9 227.2,481.0 229.0,484.3 231.6,488.2 234.2,491.3 238.1,493.9 243.2,495.5 251.0,496.7 261.3,498.3 271.6,499.1 278.9,499.1" fill="none" stroke="#000" stroke-width="2.4" stroke-linejoin="round"/>
<polyline points="162.4,499.3 176.1,498.3 181.8,493.4 184.3,480.5 186.4,457.2 188.2,431.4 189.8,410.7 191.3,396.5 192.9,388.8 194.7,387.0 196.2,391.4 197.5,399.1 198.8,408.2 200.1,417.2 201.4,423.7 202.7,427.5 204.0,430.1 205.3,431.9 206.6,429.3 207.8,430.1 209.1,431.9 210.4,434.5 211.7,437.9 213.0,441.2 214.3,444.3 215.6,448.2 216.9,452.1 218.2,455.9 219.5,459.8 220.8,463.7 222.0,467.6 223.3,471.4 224.6,475.3 226.4,479.2 229.0,483.6 231.6,487.7 234.2,490.8 238.1,493.4 243.2,494.9 251.0,496.5 261.3,498.0 271.6,499.1" fill="none" stroke="#000" stroke-width="2.4" stroke-dasharray="1.6,1.4" stroke-linejoin="round"/>
<polyline points="162.4,499.3 170.9,498.5 177.4,496.5 181.2,492.1 183.8,483.1 185.9,465.0 187.7,444.3 188.8,440.0 191.1,408.8 192.9,386.9 194.0,384.6 195.8,385.8 198.1,384.6 199.8,385.8 201.0,392.7 202.7,395.0 203.3,403.0 204.4,411.1 206.1,413.4 207.3,416.9 208.4,426.1 210.8,427.3 212.5,428.4 213.6,434.2 215.4,440.0 216.9,445.6 218.2,449.5 219.5,454.6 220.8,459.8 222.0,464.2 223.3,468.1 224.6,471.9 225.9,475.8 227.2,479.7 228.8,483.1 231.3,486.9 233.9,490.8 236.5,492.9 239.4,493.4 243.2,493.9 247.1,494.7 251.0,495.5 254.8,496.5 258.7,497.5 263.9,498.5 271.6,499.1 276.8,498.5 278.9,496.0" fill="none" stroke="#000" stroke-width="2.6" stroke-linejoin="round"/>
<line x1="28.7" y1="500.2" x2="32.3" y2="500.2" stroke="#111" stroke-width="1.0" />
<text x="27.5" y="502.4" font-size="6.3" font-weight="normal" text-anchor="end" fill="#222" >0</text>
<line x1="30.9" y1="494.0" x2="32.3" y2="494.0" stroke="#111" stroke-width="1.0" />
<line x1="30.9" y1="487.9" x2="32.3" y2="487.9" stroke="#111" stroke-width="1.0" />
<line x1="30.9" y1="481.7" x2="32.3" y2="481.7" stroke="#111" stroke-width="1.0" />
<line x1="28.7" y1="475.5" x2="32.3" y2="475.5" stroke="#111" stroke-width="1.0" />
<text x="27.5" y="477.7" font-size="6.3" font-weight="normal" text-anchor="end" fill="#222" >20</text>
<line x1="30.9" y1="469.4" x2="32.3" y2="469.4" stroke="#111" stroke-width="1.0" />
<line x1="30.9" y1="463.2" x2="32.3" y2="463.2" stroke="#111" stroke-width="1.0" />
<line x1="30.9" y1="457.0" x2="32.3" y2="457.0" stroke="#111" stroke-width="1.0" />
<line x1="28.7" y1="450.8" x2="32.3" y2="450.8" stroke="#111" stroke-width="1.0" />
<text x="27.5" y="453.0" font-size="6.3" font-weight="normal" text-anchor="end" fill="#222" >40</text>
<line x1="30.9" y1="444.7" x2="32.3" y2="444.7" stroke="#111" stroke-width="1.0" />
<line x1="30.9" y1="438.5" x2="32.3" y2="438.5" stroke="#111" stroke-width="1.0" />
<line x1="30.9" y1="432.3" x2="32.3" y2="432.3" stroke="#111" stroke-width="1.0" />
<line x1="28.7" y1="426.2" x2="32.3" y2="426.2" stroke="#111" stroke-width="1.0" />
<text x="27.5" y="428.4" font-size="6.3" font-weight="normal" text-anchor="end" fill="#222" >60</text>
<line x1="30.9" y1="420.0" x2="32.3" y2="420.0" stroke="#111" stroke-width="1.0" />
<line x1="30.9" y1="413.8" x2="32.3" y2="413.8" stroke="#111" stroke-width="1.0" />
<line x1="30.9" y1="407.6" x2="32.3" y2="407.6" stroke="#111" stroke-width="1.0" />
<line x1="28.7" y1="401.5" x2="32.3" y2="401.5" stroke="#111" stroke-width="1.0" />
<text x="27.5" y="403.7" font-size="6.3" font-weight="normal" text-anchor="end" fill="#222" >80</text>
<line x1="30.9" y1="395.3" x2="32.3" y2="395.3" stroke="#111" stroke-width="1.0" />
<line x1="30.9" y1="389.1" x2="32.3" y2="389.1" stroke="#111" stroke-width="1.0" />
<line x1="30.9" y1="383.0" x2="32.3" y2="383.0" stroke="#111" stroke-width="1.0" />
<line x1="28.7" y1="376.8" x2="32.3" y2="376.8" stroke="#111" stroke-width="1.0" />
<text x="27.5" y="379.0" font-size="6.3" font-weight="normal" text-anchor="end" fill="#222" >100</text>
<line x1="32.3" y1="500.2" x2="32.3" y2="503.2" stroke="#111" stroke-width="1.0" />
<line x1="41.3" y1="500.2" x2="41.3" y2="502.2" stroke="#111" stroke-width="1.0" />
<line x1="46.6" y1="500.2" x2="46.6" y2="502.2" stroke="#111" stroke-width="1.0" />
<line x1="50.4" y1="500.2" x2="50.4" y2="502.2" stroke="#111" stroke-width="1.0" />
<line x1="53.3" y1="500.2" x2="53.3" y2="502.2" stroke="#111" stroke-width="1.0" />
<line x1="55.6" y1="500.2" x2="55.6" y2="502.2" stroke="#111" stroke-width="1.0" />
<line x1="57.7" y1="500.2" x2="57.7" y2="502.2" stroke="#111" stroke-width="1.0" />
<line x1="59.4" y1="500.2" x2="59.4" y2="502.2" stroke="#111" stroke-width="1.0" />
<line x1="60.9" y1="500.2" x2="60.9" y2="502.2" stroke="#111" stroke-width="1.0" />
<line x1="62.3" y1="500.2" x2="62.3" y2="503.2" stroke="#111" stroke-width="1.0" />
<line x1="71.3" y1="500.2" x2="71.3" y2="502.2" stroke="#111" stroke-width="1.0" />
<line x1="76.6" y1="500.2" x2="76.6" y2="502.2" stroke="#111" stroke-width="1.0" />
<line x1="80.4" y1="500.2" x2="80.4" y2="502.2" stroke="#111" stroke-width="1.0" />
<line x1="83.3" y1="500.2" x2="83.3" y2="502.2" stroke="#111" stroke-width="1.0" />
<line x1="85.6" y1="500.2" x2="85.6" y2="502.2" stroke="#111" stroke-width="1.0" />
<line x1="87.7" y1="500.2" x2="87.7" y2="502.2" stroke="#111" stroke-width="1.0" />
<line x1="89.4" y1="500.2" x2="89.4" y2="502.2" stroke="#111" stroke-width="1.0" />
<line x1="90.9" y1="500.2" x2="90.9" y2="502.2" stroke="#111" stroke-width="1.0" />
<line x1="92.3" y1="500.2" x2="92.3" y2="503.2" stroke="#111" stroke-width="1.0" />
<line x1="101.3" y1="500.2" x2="101.3" y2="502.2" stroke="#111" stroke-width="1.0" />
<line x1="106.6" y1="500.2" x2="106.6" y2="502.2" stroke="#111" stroke-width="1.0" />
<line x1="110.4" y1="500.2" x2="110.4" y2="502.2" stroke="#111" stroke-width="1.0" />
<line x1="113.3" y1="500.2" x2="113.3" y2="502.2" stroke="#111" stroke-width="1.0" />
<line x1="115.6" y1="500.2" x2="115.6" y2="502.2" stroke="#111" stroke-width="1.0" />
<line x1="117.7" y1="500.2" x2="117.7" y2="502.2" stroke="#111" stroke-width="1.0" />
<line x1="119.4" y1="500.2" x2="119.4" y2="502.2" stroke="#111" stroke-width="1.0" />
<line x1="120.9" y1="500.2" x2="120.9" y2="502.2" stroke="#111" stroke-width="1.0" />
<line x1="122.3" y1="500.2" x2="122.3" y2="503.2" stroke="#111" stroke-width="1.0" />
<line x1="131.3" y1="500.2" x2="131.3" y2="502.2" stroke="#111" stroke-width="1.0" />
<line x1="136.6" y1="500.2" x2="136.6" y2="502.2" stroke="#111" stroke-width="1.0" />
<line x1="140.4" y1="500.2" x2="140.4" y2="502.2" stroke="#111" stroke-width="1.0" />
<line x1="143.3" y1="500.2" x2="143.3" y2="502.2" stroke="#111" stroke-width="1.0" />
<line x1="145.6" y1="500.2" x2="145.6" y2="502.2" stroke="#111" stroke-width="1.0" />
<line x1="147.7" y1="500.2" x2="147.7" y2="502.2" stroke="#111" stroke-width="1.0" />
<line x1="149.4" y1="500.2" x2="149.4" y2="502.2" stroke="#111" stroke-width="1.0" />
<line x1="150.9" y1="500.2" x2="150.9" y2="502.2" stroke="#111" stroke-width="1.0" />
<text x="33.1" y="511.6" font-size="7" text-anchor="middle" fill="#222">10<tspan font-size="5.0" dy="-3">0</tspan></text>
<text x="63.1" y="511.6" font-size="7" text-anchor="middle" fill="#222">10<tspan font-size="5.0" dy="-3">1</tspan></text>
<text x="93.1" y="511.6" font-size="7" text-anchor="middle" fill="#222">10<tspan font-size="5.0" dy="-3">2</tspan></text>
<text x="123.1" y="511.6" font-size="7" text-anchor="middle" fill="#222">10<tspan font-size="5.0" dy="-3">3</tspan></text>
<text x="153.1" y="511.6" font-size="7" text-anchor="middle" fill="#222">10<tspan font-size="5.0" dy="-3">4</tspan></text>
<line x1="32.3" y1="376.8" x2="152.3" y2="376.8" stroke="#777" stroke-width="1.2" />
<line x1="32.3" y1="500.2" x2="152.3" y2="500.2" stroke="#111" stroke-width="1.5" />
<line x1="152.3" y1="376.2" x2="152.3" y2="503.7" stroke="#777" stroke-width="1.2" />
<line x1="32.3" y1="376.8" x2="32.3" y2="503.7" stroke="#111" stroke-width="1.5" />
<line x1="158.7" y1="499.9" x2="162.3" y2="499.9" stroke="#111" stroke-width="1.0" />
<line x1="160.9" y1="493.8" x2="162.3" y2="493.8" stroke="#111" stroke-width="1.0" />
<line x1="160.9" y1="487.7" x2="162.3" y2="487.7" stroke="#111" stroke-width="1.0" />
<line x1="160.9" y1="481.6" x2="162.3" y2="481.6" stroke="#111" stroke-width="1.0" />
<line x1="158.7" y1="475.5" x2="162.3" y2="475.5" stroke="#111" stroke-width="1.0" />
<line x1="160.9" y1="469.4" x2="162.3" y2="469.4" stroke="#111" stroke-width="1.0" />
<line x1="160.9" y1="463.3" x2="162.3" y2="463.3" stroke="#111" stroke-width="1.0" />
<line x1="160.9" y1="457.2" x2="162.3" y2="457.2" stroke="#111" stroke-width="1.0" />
<line x1="158.7" y1="451.1" x2="162.3" y2="451.1" stroke="#111" stroke-width="1.0" />
<line x1="160.9" y1="445.0" x2="162.3" y2="445.0" stroke="#111" stroke-width="1.0" />
<line x1="160.9" y1="438.9" x2="162.3" y2="438.9" stroke="#111" stroke-width="1.0" />
<line x1="160.9" y1="432.7" x2="162.3" y2="432.7" stroke="#111" stroke-width="1.0" />
<line x1="158.7" y1="426.6" x2="162.3" y2="426.6" stroke="#111" stroke-width="1.0" />
<line x1="160.9" y1="420.5" x2="162.3" y2="420.5" stroke="#111" stroke-width="1.0" />
<line x1="160.9" y1="414.4" x2="162.3" y2="414.4" stroke="#111" stroke-width="1.0" />
<line x1="160.9" y1="408.3" x2="162.3" y2="408.3" stroke="#111" stroke-width="1.0" />
<line x1="158.7" y1="402.2" x2="162.3" y2="402.2" stroke="#111" stroke-width="1.0" />
<line x1="160.9" y1="396.1" x2="162.3" y2="396.1" stroke="#111" stroke-width="1.0" />
<line x1="160.9" y1="390.0" x2="162.3" y2="390.0" stroke="#111" stroke-width="1.0" />
<line x1="160.9" y1="383.9" x2="162.3" y2="383.9" stroke="#111" stroke-width="1.0" />
<line x1="158.7" y1="377.8" x2="162.3" y2="377.8" stroke="#111" stroke-width="1.0" />
<line x1="162.3" y1="499.9" x2="162.3" y2="502.9" stroke="#111" stroke-width="1.0" />
<line x1="171.1" y1="499.9" x2="171.1" y2="501.9" stroke="#111" stroke-width="1.0" />
<line x1="176.2" y1="499.9" x2="176.2" y2="501.9" stroke="#111" stroke-width="1.0" />
<line x1="179.9" y1="499.9" x2="179.9" y2="501.9" stroke="#111" stroke-width="1.0" />
<line x1="182.7" y1="499.9" x2="182.7" y2="501.9" stroke="#111" stroke-width="1.0" />
<line x1="185.0" y1="499.9" x2="185.0" y2="501.9" stroke="#111" stroke-width="1.0" />
<line x1="187.0" y1="499.9" x2="187.0" y2="501.9" stroke="#111" stroke-width="1.0" />
<line x1="188.6" y1="499.9" x2="188.6" y2="501.9" stroke="#111" stroke-width="1.0" />
<line x1="190.1" y1="499.9" x2="190.1" y2="501.9" stroke="#111" stroke-width="1.0" />
<line x1="191.5" y1="499.9" x2="191.5" y2="502.9" stroke="#111" stroke-width="1.0" />
<line x1="200.3" y1="499.9" x2="200.3" y2="501.9" stroke="#111" stroke-width="1.0" />
<line x1="205.4" y1="499.9" x2="205.4" y2="501.9" stroke="#111" stroke-width="1.0" />
<line x1="209.0" y1="499.9" x2="209.0" y2="501.9" stroke="#111" stroke-width="1.0" />
<line x1="211.9" y1="499.9" x2="211.9" y2="501.9" stroke="#111" stroke-width="1.0" />
<line x1="214.2" y1="499.9" x2="214.2" y2="501.9" stroke="#111" stroke-width="1.0" />
<line x1="216.1" y1="499.9" x2="216.1" y2="501.9" stroke="#111" stroke-width="1.0" />
<line x1="217.8" y1="499.9" x2="217.8" y2="501.9" stroke="#111" stroke-width="1.0" />
<line x1="219.3" y1="499.9" x2="219.3" y2="501.9" stroke="#111" stroke-width="1.0" />
<line x1="220.7" y1="499.9" x2="220.7" y2="502.9" stroke="#111" stroke-width="1.0" />
<line x1="229.4" y1="499.9" x2="229.4" y2="501.9" stroke="#111" stroke-width="1.0" />
<line x1="234.6" y1="499.9" x2="234.6" y2="501.9" stroke="#111" stroke-width="1.0" />
<line x1="238.2" y1="499.9" x2="238.2" y2="501.9" stroke="#111" stroke-width="1.0" />
<line x1="241.0" y1="499.9" x2="241.0" y2="501.9" stroke="#111" stroke-width="1.0" />
<line x1="243.4" y1="499.9" x2="243.4" y2="501.9" stroke="#111" stroke-width="1.0" />
<line x1="245.3" y1="499.9" x2="245.3" y2="501.9" stroke="#111" stroke-width="1.0" />
<line x1="247.0" y1="499.9" x2="247.0" y2="501.9" stroke="#111" stroke-width="1.0" />
<line x1="248.5" y1="499.9" x2="248.5" y2="501.9" stroke="#111" stroke-width="1.0" />
<line x1="249.8" y1="499.9" x2="249.8" y2="502.9" stroke="#111" stroke-width="1.0" />
<line x1="258.6" y1="499.9" x2="258.6" y2="501.9" stroke="#111" stroke-width="1.0" />
<line x1="263.7" y1="499.9" x2="263.7" y2="501.9" stroke="#111" stroke-width="1.0" />
<line x1="267.4" y1="499.9" x2="267.4" y2="501.9" stroke="#111" stroke-width="1.0" />
<line x1="270.2" y1="499.9" x2="270.2" y2="501.9" stroke="#111" stroke-width="1.0" />
<line x1="272.5" y1="499.9" x2="272.5" y2="501.9" stroke="#111" stroke-width="1.0" />
<line x1="274.5" y1="499.9" x2="274.5" y2="501.9" stroke="#111" stroke-width="1.0" />
<line x1="276.2" y1="499.9" x2="276.2" y2="501.9" stroke="#111" stroke-width="1.0" />
<line x1="277.7" y1="499.9" x2="277.7" y2="501.9" stroke="#111" stroke-width="1.0" />
<text x="163.1" y="511.6" font-size="7" text-anchor="middle" fill="#222">10<tspan font-size="5.0" dy="-3">0</tspan></text>
<text x="192.3" y="511.6" font-size="7" text-anchor="middle" fill="#222">10<tspan font-size="5.0" dy="-3">1</tspan></text>
<text x="221.5" y="511.6" font-size="7" text-anchor="middle" fill="#222">10<tspan font-size="5.0" dy="-3">2</tspan></text>
<text x="250.6" y="511.6" font-size="7" text-anchor="middle" fill="#222">10<tspan font-size="5.0" dy="-3">3</tspan></text>
<text x="279.8" y="511.6" font-size="7" text-anchor="middle" fill="#222">10<tspan font-size="5.0" dy="-3">4</tspan></text>
<line x1="162.3" y1="377.8" x2="279.0" y2="377.8" stroke="#777" stroke-width="1.2" />
<line x1="162.3" y1="499.9" x2="279.0" y2="499.9" stroke="#111" stroke-width="1.5" />
<line x1="279.0" y1="377.2" x2="279.0" y2="503.4" stroke="#777" stroke-width="1.2" />
<line x1="162.3" y1="377.8" x2="162.3" y2="503.4" stroke="#111" stroke-width="1.5" />
<text x="4.3" y="23.6" font-size="14.5" font-weight="bold" text-anchor="start" fill="#000" >A</text>
<text x="0.7" y="362.0" font-size="14.2" font-weight="bold" text-anchor="start" fill="#000" >B</text>
<text x="40.6" y="31.6" font-size="12.85" font-weight="normal" text-anchor="start" fill="#000" >High Anti-Neu5Gc</text>
<text x="171.3" y="31.6" font-size="12.9" font-weight="normal" text-anchor="start" fill="#000" >Low Anti-Neu5Gc</text>
<text x="39.4" y="371.5" font-size="12.9" font-weight="normal" text-anchor="start" fill="#000" >High Anti-Neu5Gc</text>
<text x="170.1" y="371.4" font-size="12.95" font-weight="normal" text-anchor="start" fill="#000" >Low Anti-Neu5Gc</text>
<rect x="43.9" y="2.3" width="9.2" height="9.0" fill="#9c9c9c" stroke="#6a6a6a" stroke-width="1.1"/>
<text x="55.3" y="11.1" font-size="9.4" font-weight="bold" text-anchor="start" fill="#000" >Control</text>
<rect x="95.5" y="2.3" width="9.6" height="8.8" fill="#fff" stroke="#555" stroke-width="1"/>
<text x="108.8" y="11.1" font-size="9.4" font-weight="bold" text-anchor="start" fill="#000" >Neu5Gc-loaded</text>
<rect x="183.9" y="2.5" width="8.7" height="8.2" fill="#fff" stroke="#222" stroke-width="1.45" stroke-dasharray="2.8,1.6"/>
<text x="196.2" y="11.1" font-size="9.4" font-weight="bold" text-anchor="start" fill="#000" >Neu5Ac-loaded</text>
<text x="0" y="0" font-size="16.5" text-anchor="middle" transform="translate(13.6,176.4) rotate(-90)">% of Maximum</text>
<text x="0" y="0" font-size="16" text-anchor="middle" transform="translate(15.3,442.4) rotate(-90)">% of Maximum</text>
<text x="24.3" y="334.5" font-size="13" font-weight="normal" text-anchor="start" fill="#000" >E-Selectin</text>
<line x1="87.0" y1="330.5" x2="261.0" y2="330.5" stroke="#000" stroke-width="2.7" />
<polygon points="277.3,330.5 255.8,325.3 260.2,330.5 255.8,335.7" fill="#000"/>
<text x="23.8" y="527.8" font-size="13" font-weight="normal" text-anchor="start" fill="#000" >P-Selectin</text>
<line x1="87.0" y1="524.0" x2="259.0" y2="524.0" stroke="#000" stroke-width="2.7" />
<polygon points="277.3,524 255.5,518.6 259.8,524 255.5,529.4" fill="#000"/>
<text x="294.6" y="22.7" font-size="14.2" font-weight="bold" text-anchor="start" fill="#000" >C</text>
<line x1="344.5" y1="40.7" x2="344.5" y2="157.5" stroke="#000" stroke-width="1.8" />
<line x1="343.6" y1="156.6" x2="518.3" y2="156.6" stroke="#000" stroke-width="1.8" />
<line x1="340.3" y1="156.6" x2="344.5" y2="156.6" stroke="#000" stroke-width="1.4" />
<text x="339.5" y="159.8" font-size="9" font-weight="bold" text-anchor="end" fill="#000" >0</text>
<line x1="341.3" y1="142.2" x2="344.5" y2="142.2" stroke="#000" stroke-width="1.4" />
<line x1="340.3" y1="127.8" x2="344.5" y2="127.8" stroke="#000" stroke-width="1.4" />
<text x="339.5" y="130.9" font-size="9" font-weight="bold" text-anchor="end" fill="#000" >10</text>
<line x1="341.3" y1="113.3" x2="344.5" y2="113.3" stroke="#000" stroke-width="1.4" />
<line x1="340.3" y1="98.9" x2="344.5" y2="98.9" stroke="#000" stroke-width="1.4" />
<text x="339.5" y="102.1" font-size="9" font-weight="bold" text-anchor="end" fill="#000" >20</text>
<line x1="341.3" y1="84.5" x2="344.5" y2="84.5" stroke="#000" stroke-width="1.4" />
<line x1="340.3" y1="70.0" x2="344.5" y2="70.0" stroke="#000" stroke-width="1.4" />
<text x="339.5" y="73.2" font-size="9" font-weight="bold" text-anchor="end" fill="#000" >30</text>
<line x1="341.3" y1="55.6" x2="344.5" y2="55.6" stroke="#000" stroke-width="1.4" />
<line x1="340.3" y1="41.2" x2="344.5" y2="41.2" stroke="#000" stroke-width="1.4" />
<text x="339.5" y="44.4" font-size="9" font-weight="bold" text-anchor="end" fill="#000" >40</text>
<text x="0" y="0" font-size="9.4" font-weight="bold" text-anchor="middle" transform="translate(323.6,98.8) rotate(-90)">PBMCs / 400x Field</text>
<line x1="355.0" y1="156.6" x2="355.0" y2="160.6" stroke="#000" stroke-width="1.3" />
<line x1="376.9" y1="156.6" x2="376.9" y2="160.6" stroke="#000" stroke-width="1.3" />
<line x1="398.6" y1="156.6" x2="398.6" y2="160.6" stroke="#000" stroke-width="1.3" />
<line x1="420.5" y1="156.6" x2="420.5" y2="160.6" stroke="#000" stroke-width="1.3" />
<line x1="442.2" y1="156.6" x2="442.2" y2="160.6" stroke="#000" stroke-width="1.3" />
<line x1="463.9" y1="156.6" x2="463.9" y2="160.6" stroke="#000" stroke-width="1.3" />
<line x1="485.8" y1="156.6" x2="485.8" y2="160.6" stroke="#000" stroke-width="1.3" />
<line x1="507.6" y1="156.6" x2="507.6" y2="160.6" stroke="#000" stroke-width="1.3" />
<circle cx="351.9" cy="142.1" r="2.4" fill="#000"/>
<circle cx="358.6" cy="139.2" r="2.4" fill="#000"/>
<circle cx="355.3" cy="145.0" r="2.4" fill="#000"/>
<circle cx="352.2" cy="156.0" r="2.4" fill="#000"/>
<circle cx="355.3" cy="156.0" r="2.4" fill="#000"/>
<circle cx="358.4" cy="156.0" r="2.4" fill="#000"/>
<circle cx="355.3" cy="153.8" r="2.4" fill="#000"/>
<circle cx="353.2" cy="154.5" r="2.4" fill="#000"/>
<circle cx="357.5" cy="154.5" r="2.4" fill="#000"/>
<circle cx="377.0" cy="136.3" r="2.4" fill="#000"/>
<circle cx="380.5" cy="133.5" r="2.4" fill="#000"/>
<circle cx="377.0" cy="147.9" r="2.4" fill="#000"/>
<circle cx="374.0" cy="156.0" r="2.4" fill="#000"/>
<circle cx="377.0" cy="156.0" r="2.4" fill="#000"/>
<circle cx="380.0" cy="156.0" r="2.4" fill="#000"/>
<circle cx="377.0" cy="153.0" r="2.4" fill="#000"/>
<circle cx="375.0" cy="154.0" r="2.4" fill="#000"/>
<circle cx="379.0" cy="154.0" r="2.4" fill="#000"/>
<circle cx="398.7" cy="136.5" r="2.4" fill="#000"/>
<circle cx="398.7" cy="147.7" r="2.4" fill="#000"/>
<circle cx="398.7" cy="150.5" r="2.4" fill="#000"/>
<circle cx="395.5" cy="156.0" r="2.4" fill="#000"/>
<circle cx="398.7" cy="156.0" r="2.4" fill="#000"/>
<circle cx="401.9" cy="156.0" r="2.4" fill="#000"/>
<circle cx="397.0" cy="153.5" r="2.4" fill="#000"/>
<circle cx="400.4" cy="153.5" r="2.4" fill="#000"/>
<circle cx="420.6" cy="136.4" r="2.4" fill="#000"/>
<circle cx="417.5" cy="148.0" r="2.4" fill="#000"/>
<circle cx="421.0" cy="148.0" r="2.4" fill="#000"/>
<circle cx="417.5" cy="152.0" r="2.4" fill="#000"/>
<circle cx="423.0" cy="152.0" r="2.4" fill="#000"/>
<circle cx="416.0" cy="155.5" r="2.4" fill="#000"/>
<circle cx="420.5" cy="156.0" r="2.4" fill="#000"/>
<circle cx="425.0" cy="156.0" r="2.4" fill="#000"/>
<circle cx="442.2" cy="52.3" r="2.4" fill="#000"/>
<circle cx="442.2" cy="67.1" r="2.4" fill="#000"/>
<circle cx="442.2" cy="87.3" r="2.4" fill="#000"/>
<circle cx="442.2" cy="98.7" r="2.4" fill="#000"/>
<circle cx="446.0" cy="101.8" r="2.4" fill="#000"/>
<circle cx="442.2" cy="107.3" r="2.4" fill="#000"/>
<circle cx="439.3" cy="119.1" r="2.4" fill="#000"/>
<circle cx="446.0" cy="119.1" r="2.4" fill="#000"/>
<circle cx="442.2" cy="122.0" r="2.4" fill="#000"/>
<circle cx="442.2" cy="139.3" r="2.4" fill="#000"/>
<circle cx="460.8" cy="130.4" r="2.4" fill="#000"/>
<circle cx="463.9" cy="130.4" r="2.4" fill="#000"/>
<circle cx="462.5" cy="139.7" r="2.4" fill="#000"/>
<circle cx="465.0" cy="139.2" r="2.4" fill="#000"/>
<circle cx="467.3" cy="140.0" r="2.4" fill="#000"/>
<circle cx="463.9" cy="147.9" r="2.4" fill="#000"/>
<circle cx="460.6" cy="150.8" r="2.4" fill="#000"/>
<circle cx="467.8" cy="153.7" r="2.4" fill="#000"/>
<circle cx="463.9" cy="156.1" r="2.4" fill="#000"/>
<circle cx="482.7" cy="142.1" r="2.4" fill="#000"/>
<circle cx="488.9" cy="142.1" r="2.4" fill="#000"/>
<circle cx="485.8" cy="145.2" r="2.4" fill="#000"/>
<circle cx="485.8" cy="150.8" r="2.4" fill="#000"/>
<circle cx="488.0" cy="153.7" r="2.4" fill="#000"/>
<circle cx="483.2" cy="156.5" r="2.4" fill="#000"/>
<circle cx="488.9" cy="157.0" r="2.4" fill="#000"/>
<circle cx="485.8" cy="156.0" r="2.4" fill="#000"/>
<circle cx="507.5" cy="49.8" r="2.4" fill="#000"/>
<circle cx="511.2" cy="55.8" r="2.4" fill="#000"/>
<circle cx="507.5" cy="58.5" r="2.4" fill="#000"/>
<circle cx="507.5" cy="70.0" r="2.4" fill="#000"/>
<circle cx="511.2" cy="72.9" r="2.4" fill="#000"/>
<circle cx="507.5" cy="78.7" r="2.4" fill="#000"/>
<circle cx="511.2" cy="84.4" r="2.4" fill="#000"/>
<circle cx="504.6" cy="89.8" r="2.4" fill="#000"/>
<circle cx="508.0" cy="89.8" r="2.4" fill="#000"/>
<circle cx="507.5" cy="104.6" r="2.4" fill="#000"/>
<line x1="348.3" y1="152.2" x2="362.3" y2="152.2" stroke="#000" stroke-width="1.6" />
<line x1="370.0" y1="150.8" x2="384.0" y2="150.8" stroke="#000" stroke-width="1.6" />
<line x1="392.3" y1="152.0" x2="405.8" y2="152.0" stroke="#000" stroke-width="1.6" />
<line x1="413.3" y1="150.9" x2="427.5" y2="150.9" stroke="#000" stroke-width="1.6" />
<line x1="435.3" y1="101.3" x2="449.6" y2="101.3" stroke="#000" stroke-width="1.6" />
<line x1="457.2" y1="143.1" x2="471.2" y2="143.1" stroke="#000" stroke-width="1.6" />
<line x1="478.8" y1="150.8" x2="492.8" y2="150.8" stroke="#000" stroke-width="1.6" />
<line x1="500.4" y1="75.4" x2="514.6" y2="75.4" stroke="#000" stroke-width="1.6" />
<line x1="416.8" y1="33.5" x2="440.8" y2="33.5" stroke="#000" stroke-width="1.6" />
<line x1="443.0" y1="33.5" x2="467.7" y2="33.5" stroke="#000" stroke-width="1.6" />
<line x1="442.0" y1="41.7" x2="509.4" y2="41.7" stroke="#000" stroke-width="1.6" />
<text x="427.7" y="32.3" font-size="11.5" font-weight="bold" text-anchor="middle" fill="#000" >***</text>
<text x="453.9" y="32.8" font-size="11.5" font-weight="bold" text-anchor="middle" fill="#000" >***</text>
<text x="476.7" y="41.7" font-size="11.5" font-weight="bold" text-anchor="middle" fill="#000" >***</text>
<text x="295.3" y="171.5" font-size="9.5" font-weight="bold" text-anchor="start" fill="#000" >Ac-fed</text>
<text x="295.3" y="182.6" font-size="9.5" font-weight="bold" text-anchor="start" fill="#000" >Gc-fed</text>
<text x="295.3" y="194.2" font-size="9.5" font-weight="bold" text-anchor="start" fill="#000" >HI Serum</text>
<text x="355.0" y="171.4" font-size="9.4" font-weight="bold" text-anchor="middle" fill="#000" >+</text>
<text x="376.9" y="171.4" font-size="9.4" font-weight="bold" text-anchor="middle" fill="#000" >-</text>
<text x="398.6" y="171.4" font-size="9.4" font-weight="bold" text-anchor="middle" fill="#000" >-</text>
<text x="420.5" y="171.4" font-size="9.4" font-weight="bold" text-anchor="middle" fill="#000" >+</text>
<text x="442.2" y="171.4" font-size="9.4" font-weight="bold" text-anchor="middle" fill="#000" >-</text>
<text x="463.9" y="171.4" font-size="9.4" font-weight="bold" text-anchor="middle" fill="#000" >-</text>
<text x="485.8" y="171.4" font-size="9.4" font-weight="bold" text-anchor="middle" fill="#000" >-</text>
<text x="507.6" y="171.4" font-size="9.4" font-weight="bold" text-anchor="middle" fill="#000" >-</text>
<text x="355.0" y="182.6" font-size="9.4" font-weight="bold" text-anchor="middle" fill="#000" >-</text>
<text x="376.9" y="182.6" font-size="9.4" font-weight="bold" text-anchor="middle" fill="#000" >+</text>
<text x="398.6" y="182.6" font-size="9.4" font-weight="bold" text-anchor="middle" fill="#000" >+</text>
<text x="420.5" y="182.6" font-size="9.4" font-weight="bold" text-anchor="middle" fill="#000" >-</text>
<text x="442.2" y="182.6" font-size="9.4" font-weight="bold" text-anchor="middle" fill="#000" >+</text>
<text x="463.9" y="182.6" font-size="9.4" font-weight="bold" text-anchor="middle" fill="#000" >+</text>
<text x="485.8" y="182.6" font-size="9.4" font-weight="bold" text-anchor="middle" fill="#000" >+</text>
<text x="507.6" y="182.6" font-size="9.4" font-weight="bold" text-anchor="middle" fill="#000" >+</text>
<text x="355.0" y="194.2" font-size="9.4" font-weight="bold" text-anchor="middle" fill="#000" >-</text>
<text x="376.9" y="194.2" font-size="9.4" font-weight="bold" text-anchor="middle" fill="#000" >-</text>
<text x="398.6" y="194.2" font-size="9.4" font-weight="bold" text-anchor="middle" fill="#000" >+</text>
<text x="420.5" y="194.2" font-size="9.4" font-weight="bold" text-anchor="middle" fill="#000" >-</text>
<text x="442.2" y="194.2" font-size="9.4" font-weight="bold" text-anchor="middle" fill="#000" >-</text>
<text x="463.9" y="194.2" font-size="9.4" font-weight="bold" text-anchor="middle" fill="#000" >+</text>
<text x="485.8" y="194.2" font-size="9.4" font-weight="bold" text-anchor="middle" fill="#000" >-</text>
<text x="507.6" y="194.2" font-size="9.4" font-weight="bold" text-anchor="middle" fill="#000" >-</text>
<text x="0" y="0" font-size="9" font-weight="bold" text-anchor="end" transform="translate(356.5,202.0) rotate(-45)">s30</text>
<text x="0" y="0" font-size="9" font-weight="bold" text-anchor="end" transform="translate(378.4,202.0) rotate(-45)">s30</text>
<text x="0" y="0" font-size="9" font-weight="bold" text-anchor="end" transform="translate(400.1,202.0) rotate(-45)">s30</text>
<text x="0" y="0" font-size="9" font-weight="bold" text-anchor="end" transform="translate(422.0,202.0) rotate(-45)">s34</text>
<text x="0" y="0" font-size="9" font-weight="bold" text-anchor="end" transform="translate(443.7,202.0) rotate(-45)">s34</text>
<text x="0" y="0" font-size="9" font-weight="bold" text-anchor="end" transform="translate(465.4,202.0) rotate(-45)">s34</text>
<text x="0" y="0" font-size="9" font-weight="bold" text-anchor="end" transform="translate(487.3,202.0) rotate(-45)">NoS</text>
<text x="0" y="0" font-size="9" font-weight="bold" text-anchor="end" transform="translate(509.1,202.0) rotate(-45)">TNF</text>
<text x="295.0" y="277.7" font-size="14.3" font-weight="bold" text-anchor="start" fill="#000" >D</text>
<line x1="341.6" y1="296.0" x2="341.6" y2="412.7" stroke="#000" stroke-width="1.8" />
<line x1="340.7" y1="411.8" x2="515.0" y2="411.8" stroke="#000" stroke-width="1.8" />
<line x1="337.8" y1="411.8" x2="341.6" y2="411.8" stroke="#000" stroke-width="1.4" />
<text x="336.8" y="415.1" font-size="8.6" font-weight="bold" text-anchor="end" fill="#000" >0</text>
<line x1="337.8" y1="389.5" x2="341.6" y2="389.5" stroke="#000" stroke-width="1.4" />
<line x1="337.8" y1="367.2" x2="341.6" y2="367.2" stroke="#000" stroke-width="1.4" />
<text x="336.8" y="370.6" font-size="8.6" font-weight="bold" text-anchor="end" fill="#000" >10</text>
<line x1="337.8" y1="345.0" x2="341.6" y2="345.0" stroke="#000" stroke-width="1.4" />
<line x1="337.8" y1="322.7" x2="341.6" y2="322.7" stroke="#000" stroke-width="1.4" />
<text x="336.8" y="326.0" font-size="8.6" font-weight="bold" text-anchor="end" fill="#000" >20</text>
<line x1="337.8" y1="300.4" x2="341.6" y2="300.4" stroke="#000" stroke-width="1.4" />
<text x="0" y="0" font-size="9.4" font-weight="bold" text-anchor="middle" transform="translate(320.5,353.6) rotate(-90)">PBMCs / 400x Field</text>
<line x1="363.0" y1="411.8" x2="363.0" y2="415.8" stroke="#000" stroke-width="1.3" />
<line x1="407.2" y1="411.8" x2="407.2" y2="415.8" stroke="#000" stroke-width="1.3" />
<line x1="450.6" y1="411.8" x2="450.6" y2="415.8" stroke="#000" stroke-width="1.3" />
<line x1="493.8" y1="411.8" x2="493.8" y2="415.8" stroke="#000" stroke-width="1.3" />
<circle cx="356.2" cy="398.5" r="2.4" fill="#000"/>
<circle cx="363.0" cy="393.8" r="2.4" fill="#000"/>
<circle cx="370.0" cy="393.8" r="2.4" fill="#000"/>
<circle cx="363.0" cy="403.4" r="2.4" fill="#000"/>
<circle cx="359.8" cy="407.0" r="2.4" fill="#000"/>
<circle cx="366.6" cy="407.0" r="2.4" fill="#000"/>
<circle cx="373.6" cy="407.0" r="2.4" fill="#000"/>
<circle cx="356.2" cy="411.5" r="2.4" fill="#000"/>
<circle cx="363.0" cy="411.5" r="2.4" fill="#000"/>
<circle cx="370.0" cy="411.5" r="2.4" fill="#000"/>
<circle cx="406.8" cy="305.0" r="2.4" fill="#000"/>
<circle cx="399.8" cy="318.2" r="2.4" fill="#000"/>
<circle cx="406.8" cy="322.7" r="2.4" fill="#000"/>
<circle cx="406.8" cy="340.7" r="2.4" fill="#000"/>
<circle cx="413.7" cy="340.7" r="2.4" fill="#000"/>
<circle cx="406.8" cy="349.4" r="2.4" fill="#000"/>
<circle cx="406.8" cy="371.8" r="2.4" fill="#000"/>
<circle cx="399.8" cy="385.0" r="2.4" fill="#000"/>
<circle cx="406.8" cy="389.4" r="2.4" fill="#000"/>
<circle cx="406.8" cy="407.1" r="2.4" fill="#000"/>
<circle cx="443.5" cy="327.5" r="2.4" fill="#000"/>
<circle cx="450.3" cy="327.5" r="2.4" fill="#000"/>
<circle cx="457.2" cy="322.7" r="2.4" fill="#000"/>
<circle cx="450.3" cy="336.2" r="2.4" fill="#000"/>
<circle cx="457.2" cy="336.2" r="2.4" fill="#000"/>
<circle cx="450.3" cy="353.8" r="2.4" fill="#000"/>
<circle cx="450.3" cy="363.1" r="2.4" fill="#000"/>
<circle cx="457.2" cy="363.1" r="2.4" fill="#000"/>
<circle cx="450.3" cy="380.7" r="2.4" fill="#000"/>
<circle cx="450.3" cy="398.7" r="2.4" fill="#000"/>
<circle cx="493.6" cy="385.0" r="2.4" fill="#000"/>
<circle cx="500.8" cy="385.0" r="2.4" fill="#000"/>
<circle cx="482.8" cy="389.4" r="2.4" fill="#000"/>
<circle cx="497.6" cy="389.4" r="2.4" fill="#000"/>
<circle cx="504.2" cy="389.4" r="2.4" fill="#000"/>
<circle cx="486.3" cy="394.2" r="2.4" fill="#000"/>
<circle cx="490.2" cy="394.2" r="2.4" fill="#000"/>
<circle cx="495.0" cy="394.2" r="2.4" fill="#000"/>
<circle cx="500.2" cy="394.2" r="2.4" fill="#000"/>
<circle cx="493.6" cy="411.0" r="2.4" fill="#000"/>
<line x1="348.8" y1="404.6" x2="377.4" y2="404.6" stroke="#000" stroke-width="1.5" />
<line x1="392.0" y1="352.8" x2="421.1" y2="352.8" stroke="#000" stroke-width="1.5" />
<line x1="436.1" y1="350.7" x2="464.6" y2="350.7" stroke="#000" stroke-width="1.5" />
<line x1="479.7" y1="392.6" x2="507.4" y2="392.6" stroke="#000" stroke-width="1.5" />
<line x1="406.3" y1="287.0" x2="498.8" y2="287.0" stroke="#000" stroke-width="1.7" />
<line x1="450.8" y1="303.0" x2="498.8" y2="303.0" stroke="#000" stroke-width="1.7" />
<text x="450.8" y="287.6" font-size="11.5" font-weight="bold" text-anchor="middle" fill="#000" >***</text>
<text x="478.8" y="303.3" font-size="11.5" font-weight="bold" text-anchor="middle" fill="#000" >***</text>
<text x="298.0" y="429.9" font-size="9.6" font-weight="bold" text-anchor="start" fill="#000" >Neu5Ac2Me</text>
<text x="298.0" y="441.3" font-size="9.6" font-weight="bold" text-anchor="start" fill="#000" >Neu5Gc2Me</text>
<text x="363.8" y="428.4" font-size="12" font-weight="bold" text-anchor="middle" fill="#000" >-</text>
<text x="408.0" y="428.4" font-size="12" font-weight="bold" text-anchor="middle" fill="#000" >-</text>
<text x="451.4" y="428.4" font-size="12" font-weight="bold" text-anchor="middle" fill="#000" >+</text>
<text x="494.6" y="428.4" font-size="12" font-weight="bold" text-anchor="middle" fill="#000" >-</text>
<text x="363.8" y="442.4" font-size="12" font-weight="bold" text-anchor="middle" fill="#000" >-</text>
<text x="408.0" y="442.4" font-size="12" font-weight="bold" text-anchor="middle" fill="#000" >-</text>
<text x="451.4" y="442.4" font-size="12" font-weight="bold" text-anchor="middle" fill="#000" >-</text>
<text x="494.6" y="442.4" font-size="12" font-weight="bold" text-anchor="middle" fill="#000" >+</text>
<polyline points="393.5,449.3 393.5,453.3 511.5,453.3 511.5,449.3" fill="none" stroke="#000" stroke-width="1.8"/>
<text x="346.3" y="472.2" font-size="11" font-weight="bold" text-anchor="start" fill="#000" >Ac fed</text>
<text x="433.0" y="471.5" font-size="11" font-weight="bold" text-anchor="start" fill="#000" >Gc fed</text>
</svg>
</body></html>
